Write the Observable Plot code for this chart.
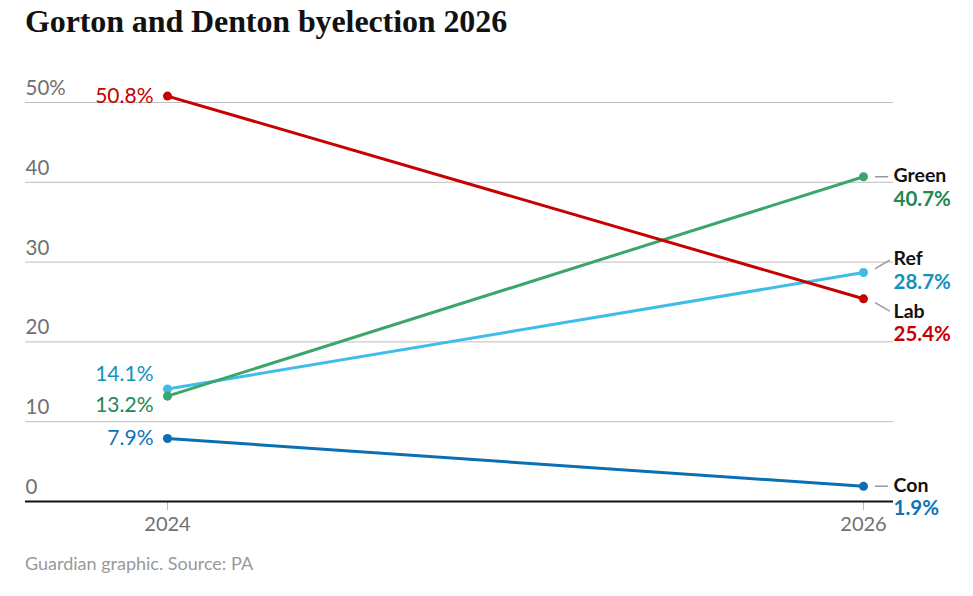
<!DOCTYPE html>
<html>
<head>
<meta charset="utf-8">
<script src="https://cdn.jsdelivr.net/npm/d3@7"></script>
<script src="https://cdn.jsdelivr.net/npm/@observablehq/plot@0.6"></script>
<style>
  html, body { margin: 0; padding: 0; background: #fff; }
  #wrap { position: relative; width: 973px; height: 596px; overflow: hidden; }
  #title { position: absolute; left: 25px; top: 3px; font-family: "Liberation Serif", "DejaVu Serif", serif; font-weight: bold; font-size: 32px; color: #121212; letter-spacing: -0.1px; white-space: nowrap; }
  #chart { position: absolute; left: 0; top: 60px; }
  #caption { position: absolute; left: 25px; top: 552px; font-family: "Lato", sans-serif; font-size: 18px; color: #999; }
</style>
</head>
<body>
<div id="wrap">
  <div id="title">Gorton and Denton byelection 2026</div>
  <div id="chart"></div>
  <div id="caption">Guardian graphic. Source: PA</div>
</div>
<script>
const years = [2024, 2026];
const parties = ["Ref", "Green", "Con", "Lab"];
const values2024 = [14.1, 13.2, 7.9, 50.8];
const values2026 = [28.7, 40.7, 1.9, 25.4];
const lineColors = ["#3fbde6", "#3aa66a", "#0a70b3", "#c70000"];
const textColors = ["#1590bd", "#22884f", "#0a74b8", "#c70000"];
const yTicks = [0, 10, 20, 30, 40, 50];

// label offsets (pixels) to avoid overlaps
const leftDy = {Ref: -15, Green: 9, Con: 0, Lab: 0};
const rightDy = {Ref: -13.5, Green: -0.5, Con: -0.5, Lab: 12.5};
const leaderRotate = {Ref: 60, Green: 90, Con: 90, Lab: 120};
const leaderDy = {Ref: -4, Green: 0, Con: 0, Lab: 4};

const rows = [];
parties.forEach((p, i) => {
  rows.push({party: p, year: years[0], value: values2024[i]});
  rows.push({party: p, year: years[1], value: values2026[i]});
});
const first = rows.filter(d => d.year === years[0]);
const last = rows.filter(d => d.year === years[1]);
const textColor = p => textColors[parties.indexOf(p)];

const font = "Lato, 'Noto Sans', sans-serif";

const chart = Plot.plot({
  width: 973,
  height: 480,
  marginTop: 42,
  marginBottom: 39,
  marginLeft: 25,
  marginRight: 80,
  style: {fontFamily: font, fontSize: "18px", overflow: "visible"},
  x: {domain: years, type: "linear", insetLeft: 142, insetRight: 30},
  y: {domain: [0, 50]},
  color: {domain: parties, range: lineColors},
  marks: [
    Plot.gridY(yTicks.filter(t => t > 0), {stroke: "#bdbdbd", strokeOpacity: 1, strokeWidth: 1}),
    Plot.axisY({ticks: yTicks, tickSize: 0, tickPadding: 0, textAnchor: "start", dy: -14,
      tickFormat: d => d === 50 ? "50%" : String(d), fill: "#707070", fontSize: 20.5, label: null}),
    Plot.axisX({ticks: years, tickFormat: d => String(d), tickSize: 9, tickPadding: 6,
      stroke: "#bdbdbd", fill: "#707070", fontSize: 20, label: null}),
    Plot.ruleY([0], {stroke: "#121212", strokeWidth: 2}),
    Plot.line(rows, {x: "year", y: "value", z: "party", stroke: "party", strokeWidth: 3}),
    Plot.dot(rows, {x: "year", y: "value", fill: "party", r: 4.5}),
    ...parties.map(p => Plot.text(first.filter(d => d.party === p), {x: "year", y: "value",
      text: d => d.value.toFixed(1) + "%", textAnchor: "end", dx: -14, dy: leftDy[p],
      fill: textColor(p), fontSize: 21})),
    ...parties.map(p => Plot.vector(last.filter(d => d.party === p), {x: "year", y: "value",
      length: p === "Ref" || p === "Lab" ? 16 : 12, rotate: leaderRotate[p], anchor: "start",
      shape: "arrow", r: 0, dx: 12, dy: leaderDy[p], stroke: "#999", strokeWidth: 1.5})),
    ...parties.map(p => Plot.text(last.filter(d => d.party === p), {x: "year", y: "value",
      text: "party", textAnchor: "start", dx: 30, dy: rightDy[p], fill: "#121212",
      fontWeight: "bold", fontSize: 19.5})),
    ...parties.map(p => Plot.text(last.filter(d => d.party === p), {x: "year", y: "value",
      text: d => d.value.toFixed(1) + "%", textAnchor: "start", dx: 30, dy: rightDy[p] + 23,
      fill: textColor(p), fontWeight: "bold", fontSize: 20.5}))
  ]
});
document.getElementById("chart").appendChild(chart);
</script>
</body>
</html>
